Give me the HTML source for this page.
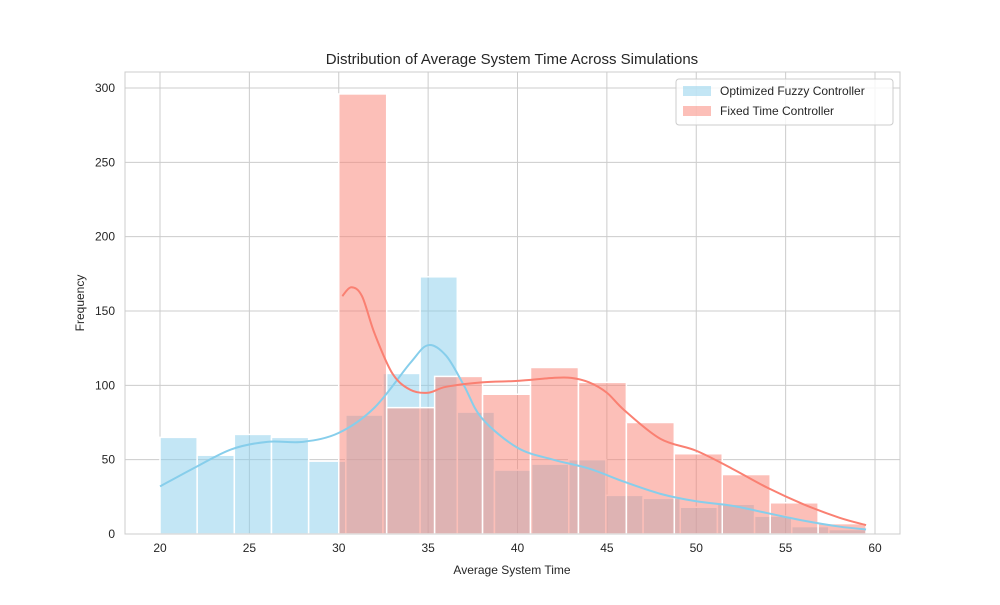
<!DOCTYPE html>
<html><head><meta charset="utf-8"><style>
body{margin:0;background:#fff;font-family:"Liberation Sans","DejaVu Sans",sans-serif;}
text{font-family:"Liberation Sans","DejaVu Sans",sans-serif;fill:#262626;}
</style></head><body>
<svg id="chart" width="1000" height="600" xmlns="http://www.w3.org/2000/svg">
<rect width="1000" height="600" fill="#fff"/>
<g id="grid"></g>
<g id="bars"></g>
<g id="lines"></g>
<rect x="125" y="72" width="775" height="462" fill="none" stroke="#cccccc" stroke-width="1"/>
<g id="ticks"></g>
<text x="512" y="64" font-size="15" text-anchor="middle">Distribution of Average System Time Across Simulations</text>
<text x="512" y="574" font-size="12" text-anchor="middle">Average System Time</text>
<text x="84" y="303" font-size="12" text-anchor="middle" transform="rotate(-90 84 303)">Frequency</text>
<g>
<rect x="676" y="79" width="217" height="46" rx="3" fill="#fff" fill-opacity="0.8" stroke="#cccccc"/>
<g><rect x="683" y="86" width="28" height="10" fill="#87ceeb" fill-opacity="0.5"/><text x="720" y="95" font-size="12">Optimized Fuzzy Controller</text></g>
<g><rect x="683" y="106" width="28" height="10" fill="#fa8072" fill-opacity="0.5"/><text x="720" y="115" font-size="12">Fixed Time Controller</text></g>
</g>
</svg>
<script>
const blueCounts=[65,53,67,65,49,80,108,173,82,43,47,50,26,24,18,20,12,5,3];
const blueStart=20, blueEnd=59.5;
const redCounts=[296,85,106,94,112,102,75,54,40,21,7];
const redStart=30, redEnd=59.5;
const blueKdeX=[20,22,24,26,28,30,32,34,35,36,37,38,40,42,44,46,48,50,52,54,56,58,59.5];
const blueKdeY=[32,45,57,62,62,68,85,115,127,120,100,78,58,50,44,35,27,22,19,14,9,5,3];
const redKdeX=[30.2,30.7,31.3,32,33,34,35,36,38,40,42,43,44,45,46,48,50,52,54,56,58,59.5];
const redKdeY=[160,166,160,135,108,97,95,99,102,103,105,105,102,95,83,64,56,44,31,20,11,6];
const xTicks=[20,25,30,35,40,45,50,55,60];
const yTicks=[0,50,100,150,200,250,300];
const X=v=>160+(v-20)*17.875;
const Y=v=>534-v*1.4867;
const NS="http://www.w3.org/2000/svg";
function mk(tag,attrs,parent){const e=document.createElementNS(NS,tag);for(const k in attrs)e.setAttribute(k,attrs[k]);document.getElementById(parent).appendChild(e);return e;}
xTicks.forEach(t=>{
 const l=mk('line',{x1:X(t),x2:X(t),y1:72,y2:534,stroke:'#cccccc'},'grid');
 
 
 const tx=mk('text',{x:X(t),y:552,'font-size':12,'text-anchor':'middle'},'ticks');tx.textContent=t;
 
 
});
yTicks.forEach(t=>{
 const l=mk('line',{x1:125,x2:900,y1:Y(t),y2:Y(t),stroke:'#cccccc'},'grid');
 
 
 const tx=mk('text',{x:115,y:Y(t)+4,'font-size':12,'text-anchor':'end'},'ticks');tx.textContent=t;
 
 
});
function bars(counts,s,e,color,name){
 const w=(e-s)/counts.length;
 counts.forEach((c,i)=>{
  const x0=X(s+i*w),x1=X(s+(i+1)*w);
  const r=mk('rect',{x:x0,y:Y(c),width:x1-x0,height:Y(0)-Y(c),fill:color,'fill-opacity':0.5,stroke:'#fff','stroke-width':1.5},'bars');
  
  
 });
}
bars(blueCounts,blueStart,blueEnd,'#87ceeb','bar-fuzzy');
bars(redCounts,redStart,redEnd,'#fa8072','bar-fixed');
function path(xs,ys,color,name){
 const p=xs.map((x,i)=>[X(x),Y(ys[i])]);
 let d='M'+p[0][0]+','+p[0][1];
 for(let i=0;i<p.length-1;i++){
  const p0=p[Math.max(0,i-1)],p1=p[i],p2=p[i+1],p3=p[Math.min(p.length-1,i+2)];
  const c1=[p1[0]+(p2[0]-p0[0])/6,p1[1]+(p2[1]-p0[1])/6];
  const c2=[p2[0]-(p3[0]-p1[0])/6,p2[1]-(p3[1]-p1[1])/6];
  d+=` C${c1[0]},${c1[1]} ${c2[0]},${c2[1]} ${p2[0]},${p2[1]}`;
 }
 const el=mk('path',{d:d,fill:'none',stroke:color,'stroke-width':2},'lines');
 
 
}
path(blueKdeX,blueKdeY,'#87ceeb','kde-fuzzy');
path(redKdeX,redKdeY,'#fa8072','kde-fixed');
</script>
</body></html>
